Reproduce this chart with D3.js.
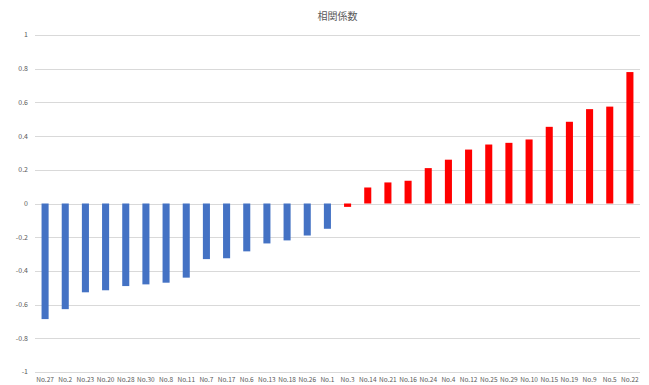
<!DOCTYPE html>
<meta charset="utf-8">
<script src="https://d3js.org/d3.v7.min.js"></script>
<body style="margin:0;background:#fff">
<div id="chart"></div>
</body>
<script>
    // categories, left to right
    const names = ["No.27","No.2","No.23","No.20","No.28","No.30","No.8","No.11","No.7","No.17",
                   "No.6","No.13","No.18","No.26","No.1","No.3","No.14","No.21","No.16","No.24",
                   "No.4","No.12","No.25","No.29","No.10","No.15","No.19","No.9","No.5","No.22"];
    const values = [-0.686,-0.627,-0.527,-0.515,-0.49,-0.48,-0.47,-0.44,-0.33,-0.325,
                    -0.284,-0.237,-0.219,-0.19,-0.15,-0.02,0.095,0.125,0.135,0.21,
                    0.26,0.32,0.35,0.36,0.38,0.455,0.485,0.56,0.575,0.78];
    // bars drawn in red
    const redNames = ["No.3","No.14","No.21","No.16","No.24","No.4","No.12","No.25","No.29",
                      "No.10","No.15","No.19","No.9","No.5","No.22"];
    const yTicks = [1,0.8,0.6,0.4,0.2,0,-0.2,-0.4,-0.6,-0.8,-1];
    const title = "相関係数";

    const W = 649, H = 385;
    const margin = {top: 35, right: 9, bottom: 13, left: 35};

    const svg = d3.select("#chart").append("svg")
      .attr("width", W).attr("height", H)
      .style("font-family", "'Noto Sans CJK JP', 'Noto Sans', sans-serif");

    const x = d3.scaleBand()
      .domain(names)
      .range([margin.left, W - margin.right])
      .paddingInner(0.65).paddingOuter(0.325);

    const y = d3.scaleLinear()
      .domain([-1, 1])
      .range([H - margin.bottom, margin.top]);

    // gridlines
    svg.append("g").selectAll("line")
      .data(yTicks)
      .join("line")
        .attr("x1", margin.left).attr("x2", W - margin.right)
        .attr("y1", d => Math.round(y(d)) + 0.5).attr("y2", d => Math.round(y(d)) + 0.5)
        .attr("stroke", "#d9d9d9").attr("stroke-width", 1);

    // y labels
    svg.append("g").selectAll("text")
      .data(yTicks)
      .join("text")
        .attr("x", margin.left - 7)
        .attr("y", d => y(d))
        .attr("dy", "0.35em")
        .attr("text-anchor", "end")
        .style("font-size", "7px")
        .style("fill", "#595959")
        .text(d => d);

    // bars
    svg.append("g").selectAll("rect")
      .data(values)
      .join("rect")
        .attr("x", (d, i) => x(names[i]))
        .attr("width", x.bandwidth())
        .attr("y", d => y(Math.max(0, d)))
        .attr("height", d => Math.abs(y(d) - y(0)))
        .attr("fill", (d, i) => redNames.includes(names[i]) ? "#ff0000" : "#4472c4");

    // category labels
    svg.append("g").selectAll("text")
      .data(names)
      .join("text")
        .attr("x", d => x(d) + x.bandwidth() / 2)
        .attr("y", H - margin.bottom + 10)
        .attr("text-anchor", "middle")
        .style("font-size", "6.5px")
        .style("fill", "#595959")
        .text(d => d);

    // title
    svg.append("text")
      .attr("x", (margin.left + W - margin.right) / 2)
      .attr("y", 20)
      .attr("text-anchor", "middle")
      .style("font-size", "10px")
      .style("fill", "#595959")
      .text(title);
</script>
